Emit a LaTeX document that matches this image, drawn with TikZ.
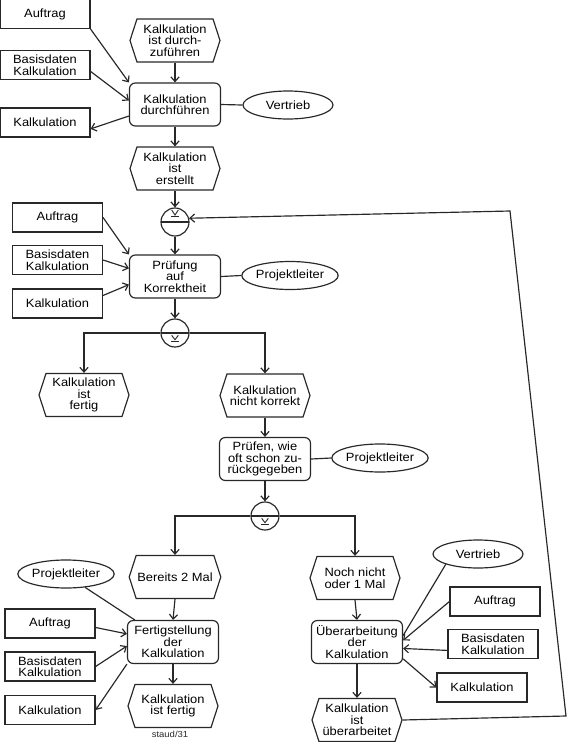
\documentclass[tikz,border=0pt]{standalone}
\usepackage{fontspec}
\setmainfont{Liberation Sans}[FakeStretch=1.08]
\usetikzlibrary{arrows.meta,positioning,shapes.geometric,shapes.symbols,calc}
\definecolor{eInk}{RGB}{40,40,40}
\newcommand{\eptfont}{\fontsize{10.2}{9.8}\selectfont}
\tikzset{
event/.style={signal,signal to=west and east,signal pointer angle=144,draw=eInk,line width=1pt,fill=white,minimum width=2.7cm,minimum height=1.29cm,inner sep=1pt,align=center,font=\eptfont},
func/.style={rectangle,rounded corners=5pt,draw=eInk,line width=1pt,fill=white,minimum width=2.73cm,minimum height=1.29cm,inner sep=1pt,align=center,font=\eptfont},
info/.style={rectangle,draw=eInk,line width=1pt,fill=white,minimum width=2.7cm,minimum height=0.87cm,inner sep=1pt,align=center,font=\eptfont},
orgunit/.style={ellipse,draw=eInk,line width=1pt,fill=white,minimum width=2.7cm,minimum height=0.84cm,inner sep=0pt,align=center,font=\eptfont},
xorjoin/.style={circle,draw=eInk,line width=1pt,fill=white,minimum size=0.84cm,inner sep=0pt,path picture={
  \draw[eInk,line width=1pt] (path picture bounding box.west)--(path picture bounding box.east);
  \draw[eInk,line width=0.8pt] ([shift={(-0.1cm,0.36cm)}]path picture bounding box.center)--([shift={(0cm,0.21cm)}]path picture bounding box.center)--([shift={(0.1cm,0.36cm)}]path picture bounding box.center);
  \draw[eInk,line width=0.8pt] ([shift={(-0.12cm,0.17cm)}]path picture bounding box.center)--([shift={(0.12cm,0.17cm)}]path picture bounding box.center);}},
xorsplit/.style={circle,draw=eInk,line width=1pt,fill=white,minimum size=0.84cm,inner sep=0pt,path picture={
  \draw[eInk,line width=1pt] (path picture bounding box.west)--(path picture bounding box.east);
  \draw[eInk,line width=0.8pt] ([shift={(-0.1cm,-0.07cm)}]path picture bounding box.center)--([shift={(0cm,-0.2cm)}]path picture bounding box.center)--([shift={(0.1cm,-0.07cm)}]path picture bounding box.center);
  \draw[eInk,line width=0.8pt] ([shift={(-0.12cm,-0.24cm)}]path picture bounding box.center)--([shift={(0.12cm,-0.24cm)}]path picture bounding box.center);}},
arrow/.style={-{Straight Barb[length=4pt,width=7pt]},line width=1pt,draw=eInk},
link/.style={line width=1pt,draw=eInk}
}

\begin{document}
\begin{tikzpicture}[x=0.03cm,y=-0.03cm]
\useasboundingbox (0,0) rectangle (567,742);
% Kalkulation durchfuehren
\node[event] (start) at (175,40.5) {Kalkulation\\ist durch-\\zuführen};
\node[func] (doCalc) at (175,104.5) {Kalkulation\\durchführen};
\node[info] (orderA) at (45,14) {Auftrag};
\node[info] (baseA) at (45,65) {Basisdaten\\Kalkulation};
\node[info] (calcA) at (45,122.5) {Kalkulation};
\node[orgunit] (salesA) at (288,105) {Vertrieb};
\node[event] (created) at (175,168.5) {Kalkulation\\ist\\erstellt};
% Pruefung
\node[xorjoin] (xJoin) at (175,222) {};
\node[func] (check) at (175,276.5) {Prüfung\\auf\\Korrektheit};
\node[info] (orderB) at (57.5,217.5) {Auftrag};
\node[info] (baseB) at (57.5,260) {Basisdaten\\Kalkulation};
\node[info] (calcB) at (57.5,303.5) {Kalkulation};
\node[orgunit] (leadB) at (290,275.5) {Projektleiter};
\node[xorsplit] (xCheck) at (175,333) {};
\node[event] (doneA) at (84,395) {Kalkulation\\ist\\fertig};
\node[event] (wrong) at (265,395.5) {Kalkulation\\nicht korrekt};
% wie oft zurueckgegeben
\node[func] (count) at (265,459) {Prüfen, wie\\oft schon zu-\\rückgegeben};
\node[orgunit] (leadC) at (380,458) {Projektleiter};
\node[xorsplit] (xCount) at (265,516) {};
\node[event] (twice) at (175,577) {Bereits 2 Mal};
\node[event] (once) at (355,578) {Noch nicht\\oder 1 Mal};
% Fertigstellung
\node[orgunit] (leadD) at (66,574) {Projektleiter};
\node[func] (finish) at (173,642) {Fertigstellung\\der\\Kalkulation};
\node[info] (orderD) at (50,623.5) {Auftrag};
\node[info] (baseD) at (50,666.5) {Basisdaten\\Kalkulation};
\node[info] (calcD) at (50,710) {Kalkulation};
\node[event] (doneB) at (173,706) {Kalkulation\\ist fertig};
\node[font=\fontsize{7.5}{8}\selectfont,text=eInk] (staud) at (170,734) {staud/31};
% Ueberarbeitung
\node[orgunit] (salesE) at (478,554) {Vertrieb};
\node[func] (rework) at (357,642) {Überarbeitung\\der\\Kalkulation};
\node[info] (orderE) at (495,601.5) {Auftrag};
\node[info] (baseE) at (493,644) {Basisdaten\\Kalkulation};
\node[info] (calcE) at (482,687.5) {Kalkulation};
\node[event] (reworked) at (357,720) {Kalkulation\\ist\\überarbeitet};
\coordinate (loopA) at (566,716);
\coordinate (loopB) at (510,211);

\draw[arrow] (start.south)--(doCalc.north);
\draw[arrow] (orderA.south east)--(doCalc.north west);
\draw[arrow] (baseA.-8)--(doCalc.175);
\draw[arrow] (doCalc.194)--(calcA.-8);
\draw[link] (doCalc.east)--(salesA.west);
\draw[arrow] (doCalc.south)--(created.north);
\draw[arrow] (created.south)--(xJoin.north);
\draw[arrow] (xJoin.south)--(check.north);
\draw[arrow] (orderB.east)--(check.north west);
\draw[arrow] (baseB.east)--(check.170);
\draw[arrow] (calcB.10)--(check.190);
\draw[link] (check.east)--(leadB.west);
\draw[arrow] (check.south)--(xCheck.north);
\draw[arrow] (xCheck.west)-|(doneA.north);
\draw[arrow] (xCheck.east)-|(wrong.north);
\draw[arrow] (wrong.south)--(count.north);
\draw[link] (count.east)--(leadC.west);
\draw[arrow] (count.south)--(xCount.north);
\draw[arrow] (xCount.west)-|(twice.north);
\draw[arrow] (xCount.east)-|(once.north);
\draw[arrow] (twice.south)--(finish.north);
\draw[link] (leadD.-35)--(finish.150);
\draw[arrow] (orderD.-5)--(finish.170);
\draw[arrow] (baseD.east)--(finish.185);
\draw[arrow] (finish.south west)--(calcD.east);
\draw[arrow] (finish.south)--(doneB.north);
\draw[arrow] (once.south)--(rework.north);
\draw[link] (salesE.south west)--(rework.8);
\draw[arrow] (orderE.west)--(rework.2);
\draw[arrow] (baseE.188)--(rework.-8);
\draw[arrow] (rework.-20)--(calcE.west);
\draw[arrow] (rework.south)--(reworked.north);
\draw[arrow] (reworked.east)--(loopA)--(loopB)--(xJoin.15);
\end{tikzpicture}
\end{document}
